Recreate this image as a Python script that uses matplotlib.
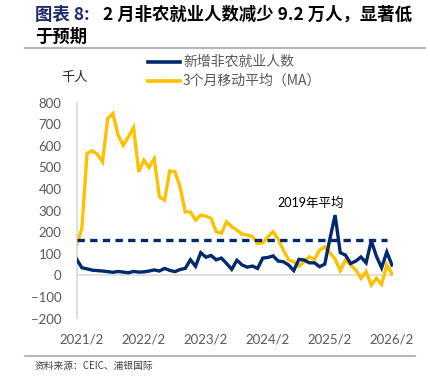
import matplotlib
matplotlib.use("Agg")
from matplotlib import pyplot as plt
from matplotlib.lines import Line2D
import numpy as np

W, H = 431, 378
DPI = 100

NAVY = "#002A6C"
GOLD = "#FFC000"
GRAY_TXT = "#595959"
RULE = "#A5A5C8"

# monthly points, 2021/1 .. 2026/2
months = [f"{2021 + (i // 12)}/{i % 12 + 1}" for i in range(62)]

payrolls = [74, 35, 30, 24, 22, 20, 17, 14, 18, 15, 12, 18, 15, 16, 20, 25,
            20, 32, 23, 17, 27, 32, 72, 42, 105, 84, 92, 72, 80, 55, 28, 70,
            48, 38, 43, 32, 80, 83, 90, 66, 63, 48, 22, 74, 71, 58, 58, 40,
            52, 170, 279, 105, 94, 55, 66, 85, 58, 160, 88, 35, 108, 48]

ma3 = [140, 218, 565, 577, 561, 526, 727, 750, 650, 603, 642, 685, 480, 534,
       500, 541, 364, 349, 484, 480, 410, 294, 294, 256, 279, 274, 264, 202,
       195, 248, 225, 210, 191, 187, 179, 148, 151, 179, 202, 167, 117, 71,
       63, 43, 63, 86, 74, 117, 132, 105, 75, 22, 71, 48, 25, -14, 17, -45,
       -14, -42, 48, 6]

avg_2019 = 166
avg_span = (0, 60)

tick_labels = ["2021/2", "2022/2", "2023/2", "2024/2", "2025/2", "2026/2"]
tick_idx = [months.index(t) for t in tick_labels]

plt.rcParams['font.family'] = ['Lato', 'Noto Sans CJK SC', 'DejaVu Sans']

fig = plt.figure(figsize=(W / DPI, H / DPI), dpi=DPI)


def fx(px):
    return px / W


def fy(py):
    return 1 - py / H


ax = fig.add_axes([fx(76.7), fy(318.5), fx(393.5) - fx(76.7), fy(102.7) - fy(318.5)])

x = np.arange(len(months))
ax.plot(x, ma3, color=GOLD, lw=2.4, solid_joinstyle="miter", zorder=2)
ax.plot(list(avg_span), [avg_2019, avg_2019], color=NAVY, lw=2.4,
        dashes=(2.2, 1.6), zorder=3)
ax.plot(x, payrolls, color=NAVY, lw=2.4, solid_joinstyle="miter", zorder=4)

ax.axhline(0, color="#D9D9D9", lw=1.2, zorder=1)
ax.set_xlim(0, 61.3)
ax.set_ylim(-200, 800)
ax.set_yticks(range(-200, 801, 100))
ax.set_xticks(tick_idx)
ax.set_xticklabels(tick_labels)
ax.tick_params(length=0, labelsize=9.5, labelcolor=GRAY_TXT)
ax.tick_params(axis="x", pad=11)
ax.tick_params(axis="y", pad=11)
for side in ["top", "right", "bottom"]:
    ax.spines[side].set_visible(False)
ax.spines["left"].set_color("#D9D9D9")
ax.spines["left"].set_linewidth(1.2)

ax.text(45.3, 336, "2019年平均", fontsize=9, color="black", ha="center", va="center")

# legend drawn by hand at the top
for py, c, lab in [(62, NAVY, "新增非农就业人数"), (81, GOLD, "3个月移动平均（MA）")]:
    fig.add_artist(Line2D([fx(148), fx(180)], [fy(py), fy(py)], color=c, lw=2.6))
    fig.text(fx(183), fy(py), lab, fontsize=10, color=GRAY_TXT, va="center",
             family=['Noto Sans CJK SC', 'DejaVu Sans'])

fig.text(fx(75), fy(77), "千人", fontsize=9.5, color="#262626", ha="center", va="center",
         family=['Noto Sans CJK SC'])

# title
fig.text(fx(35), fy(15), "图表 8:", fontsize=12.5, fontweight="bold", color="#1F2A6B",
         va="center", family=['Noto Sans CJK SC'])
fig.text(fx(103), fy(15), "2 月非农就业人数减少 9.2 万人，显著低", fontsize=12.5,
         fontweight="bold", color="black", va="center", family=['Noto Sans CJK SC'])
fig.text(fx(35), fy(37), "于预期", fontsize=12.5, fontweight="bold", color="black",
         va="center", family=['Noto Sans CJK SC'])

fig.add_artist(Line2D([fx(25), fx(425)], [fy(48), fy(48)], color=RULE, lw=1.2))
fig.add_artist(Line2D([fx(25), fx(415)], [fy(356), fy(356)], color=RULE, lw=1.2))

fig.text(fx(35), fy(366), "资料来源：CEIC、浦银国际", fontsize=7, color="#404040",
         va="center", family=['Noto Sans CJK SC'])

fig.savefig("out.png", dpi=DPI)
